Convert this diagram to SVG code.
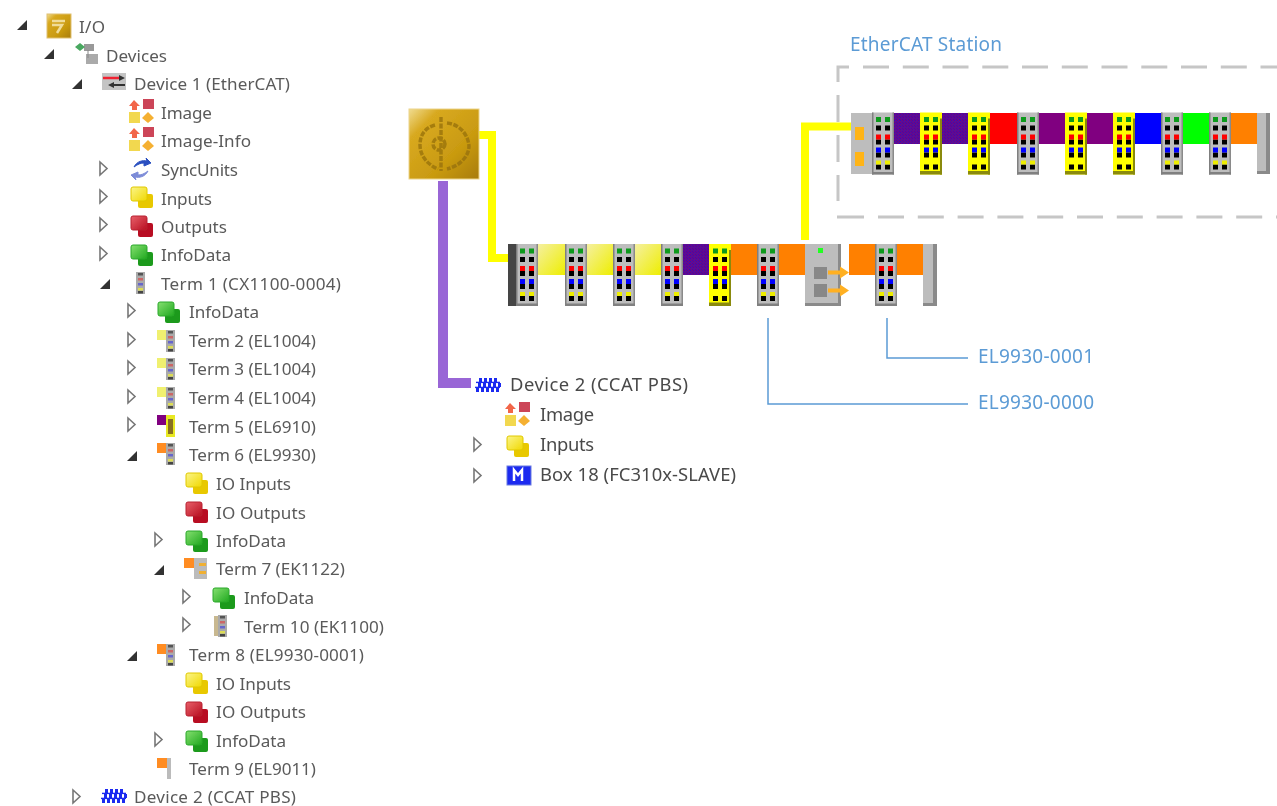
<svg xmlns="http://www.w3.org/2000/svg" width="1277" height="806" viewBox="0 0 1277 806">
<style>
text{font-family:"Noto Sans","Open Sans","Liberation Sans",sans-serif}
.t{font-size:17.1px;fill:#5a5a5a}
.t2{font-size:18.4px;fill:#4a4a4a}
.c{font-size:19px;fill:#5b9bd5}
.open{fill:#333}
.closed{fill:#fff;stroke:#777;stroke-width:1.6}
.dash{stroke:#c6c6c6;stroke-width:3;fill:none}
.call{stroke:#5b9bd5;stroke-width:1.5;fill:none}
</style>
<defs>
<filter id="soft" x="-2%" y="-2%" width="104%" height="104%"><feGaussianBlur stdDeviation="0.7"/></filter>
<linearGradient id="gold" x1="0" y1="0" x2="1" y2="1"><stop offset="0" stop-color="#f0dc90"/><stop offset=".22" stop-color="#d8a920"/><stop offset=".65" stop-color="#c99a10"/><stop offset="1" stop-color="#a87c08"/></linearGradient>
<linearGradient id="yg" x1="0" y1="0" x2="1" y2="1"><stop offset="0" stop-color="#f5f0a0"/><stop offset="1" stop-color="#eeee00"/></linearGradient>
<linearGradient id="yi" x1="0" y1="0" x2="1" y2="1"><stop offset="0" stop-color="#fbf58a"/><stop offset="1" stop-color="#f0d800"/></linearGradient>
<linearGradient id="ri" x1="0" y1="0" x2="1" y2="1"><stop offset="0" stop-color="#e8606a"/><stop offset="1" stop-color="#b80f20"/></linearGradient>
<linearGradient id="gi" x1="0" y1="0" x2="1" y2="1"><stop offset="0" stop-color="#86e070"/><stop offset="1" stop-color="#1fa81f"/></linearGradient>
<pattern id="hatch" width="3" height="3" patternUnits="userSpaceOnUse"><rect width="3" height="3" fill="#7a007a"/><rect width="1.500" height="1.500" fill="#3a10b0"/><rect x="1.500" y="1.500" width="1.500" height="1.500" fill="#3a10b0"/></pattern>
<g id="dots">
<g fill="#0a9a1a"><rect x="4" y="4.500" width="5" height="5"/><rect x="13" y="4.500" width="5" height="5"/></g>
<g fill="#000"><rect x="4" y="13" width="5" height="5"/><rect x="13" y="13" width="5" height="5"/><rect x="4" y="27" width="5" height="5"/><rect x="13" y="27" width="5" height="5"/><rect x="4" y="40" width="5" height="5"/><rect x="13" y="40" width="5" height="5"/><rect x="4" y="52" width="5" height="5"/><rect x="13" y="52" width="5" height="5"/></g>
<g fill="#f00"><rect x="4" y="22" width="5" height="5"/><rect x="13" y="22" width="5" height="5"/></g>
<g fill="#00f"><rect x="4" y="35" width="5" height="5"/><rect x="13" y="35" width="5" height="5"/></g>
</g>
<g id="term"><rect width="22" height="62" fill="#bdbdbd"/><rect width="1.500" height="62" fill="#7f7f7f"/><rect x="20.500" width="1.500" height="62" fill="#8a8a8a"/><rect y="59.500" width="22" height="2.500" fill="#808080"/><use href="#dots"/><g fill="#ee0"><rect x="4" y="48" width="5" height="4"/><rect x="13" y="48" width="5" height="4"/></g></g>
<g id="yterm"><rect width="22" height="62" fill="#ff0"/><rect x="20" y="6" width="2" height="56" fill="#8a8a10"/><rect y="58.500" width="22" height="3.500" fill="#8a8a10"/><use href="#dots"/></g>
<g id="mini"><rect width="9" height="22" fill="#aaa"/><rect x="2" y="1" width="5" height="2.500" fill="#555"/><rect x="2" y="6" width="5" height="2.500" fill="#c66"/><rect x="2" y="11" width="5" height="2.500" fill="#66c"/><rect x="2" y="16" width="5" height="2.500" fill="#dd5"/><rect x="2" y="19" width="5" height="2.500" fill="#444"/></g>
<g id="img"><rect x="0" y="13" width="11" height="11" fill="#f2d850"/><rect x="14" y="0" width="11" height="10" fill="#cc4458"/><path d="M5 1l6 6h-3v4h-5v-4h-3z" fill="#f2664a"/><path d="M19 13l6 6-6 5-6-5z" fill="#f5b030"/></g>
<g id="yi2"><rect x="7" y="7" width="15" height="14" rx="2" fill="#e8c800"/><rect width="16" height="14" rx="2" fill="url(#yi)" stroke="#e0c800"/></g>
<g id="ri2"><rect x="7" y="7" width="15" height="14" rx="2" fill="#b80f20"/><rect width="16" height="14" rx="2" fill="url(#ri)" stroke="#b82030"/></g>
<g id="gi2"><rect x="7" y="7" width="15" height="14" rx="2" fill="#1a9a1a"/><rect width="16" height="14" rx="2" fill="url(#gi)" stroke="#2aa82a"/></g>
<g id="grid" fill="#1a2af0"><path d="M4 0h3v4h-3zM9 0h3v4h-3zM14 0h3v4h-3zM19 0h3v4h-3zM3 5h3v4h-3zM8 5h3v4h-3zM13 5h3v4h-3zM18 5h3v4h-3zM23 5h3v4h-3zM1 10h3v4h-3zM6 10h3v4h-3zM11 10h3v4h-3zM16 10h3v4h-3zM21 10h3v4h-3z"/><rect x="1" y="3.700" width="24" height="1.400"/><rect x="0" y="8.700" width="25" height="1.400"/></g>
<path id="o" class="open" d="M9 0v10h-10z"/>
<path id="x" class="closed" d="M0 0l7 6.500-7 6.500z"/>
</defs>
<rect width="1277" height="806" fill="#fff"/>
<g filter="url(#soft)">
<g id="connectors">
<path d="M479 135H492V258H508" fill="none" stroke="#ff0" stroke-width="8"/>
<path d="M805 240V126.500H851" fill="none" stroke="#ff0" stroke-width="8"/>
<path d="M443 181V383H471" fill="none" stroke="#9966d6" stroke-width="10"/>
<path class="call" d="M768 318V404H968"/>
<path class="call" d="M887 318V358H968"/>
</g>
<g id="io-icon">
<rect x="409" y="109" width="70" height="70" fill="url(#gold)" stroke="#ecd48a"/>
<g fill="none" stroke="#96700c" stroke-width="3.500" stroke-dasharray="5 1.500" opacity=".75"><path d="M441 117V171"/><path d="M435 125C424 128 420 136 420 145C420 156 428 165 438 169"/><path d="M447 123C458 124 468 133 469 146C469 156 460 166 447 169"/><circle cx="439" cy="144" r="6"/></g>
</g>
<g id="bus-main">
<rect x="508" y="244" width="8" height="62" fill="#444"/>
<rect x="538" y="244" width="27" height="31" fill="url(#yg)"/><rect x="587" y="244" width="26" height="31" fill="url(#yg)"/><rect x="635" y="244" width="26" height="31" fill="url(#yg)"/><rect x="683" y="244" width="26" height="31" fill="url(#hatch)"/><rect x="731" y="244" width="26" height="31" fill="#ff8000"/><rect x="779" y="244" width="26" height="31" fill="#ff8000"/><rect x="849" y="244" width="26" height="31" fill="#ff8000"/><rect x="897" y="244" width="26" height="31" fill="#ff8000"/>
<use href="#term" x="516" y="244"/><use href="#term" x="565" y="244"/><use href="#term" x="613" y="244"/><use href="#term" x="661" y="244"/><use href="#yterm" x="709" y="244"/><use href="#term" x="757" y="244"/><use href="#term" x="875" y="244"/>
<g id="ek1122"><rect x="805" y="244" width="36" height="62" fill="#bdbdbd"/><rect x="838" y="244" width="3" height="62" fill="#8a8a8a"/><rect x="805" y="303" width="36" height="3" fill="#8a8a8a"/><rect x="818" y="248" width="5" height="5" fill="#2f2"/><rect x="814" y="267" width="13" height="12" fill="#888"/><rect x="814" y="284" width="13" height="13" fill="#888"/><path d="M828 270.500h12v-4l9 6-9 6v-4h-12zM828 288.500h12v-4l9 6-9 6v-4h-12z" fill="#ffb020"/></g>
<rect x="923" y="244" width="14" height="62" fill="#bdbdbd"/><rect x="933" y="244" width="4" height="62" fill="#8a8a8a"/><rect x="923" y="303" width="14" height="3" fill="#8a8a8a"/>
</g>
<g id="station">
<g class="dash"><path d="M838 82V67H849"/><path d="M838 95V122M838 135V162M838 175V201"/><path d="M863 67H889M902.800 67H928.800M942.500 67H968.500M982.300 67H1008.300M1022 67H1048M1061.800 67H1087.800M1101.500 67H1127.500M1141.300 67H1167.300M1181 67H1207M1220.800 67H1246.800M1260.500 67H1277"/><path d="M837 217H864M878 217H904M917.800 217H943.800M957.600 217H983.600M997.400 217H1023.400M1037.200 217H1063.200M1077 217H1103M1116.800 217H1142.800M1156.600 217H1182.600M1196.400 217H1222.400M1236.200 217H1262.200M1276 217H1277"/></g>
<rect x="851" y="113" width="21" height="61" fill="#bdbdbd"/><rect x="855" y="127" width="9" height="13" fill="#ffb414"/><rect x="855" y="152" width="9" height="14" fill="#ffb414"/>
<rect x="894" y="113" width="26" height="31" fill="url(#hatch)"/><rect x="942" y="113" width="26" height="31" fill="url(#hatch)"/><rect x="990" y="113" width="27" height="31" fill="#f00"/><rect x="1038" y="113" width="27" height="31" fill="#800080"/><rect x="1087" y="113" width="26" height="31" fill="#800080"/><rect x="1135" y="113" width="26" height="31" fill="#00f"/><rect x="1183" y="113" width="26" height="31" fill="#0f0"/><rect x="1231" y="113" width="26" height="31" fill="#ff8000"/>
<use href="#term" x="872" y="112.500"/><use href="#yterm" x="920" y="112.500"/><use href="#yterm" x="968" y="112.500"/><use href="#term" x="1017" y="112.500"/><use href="#yterm" x="1065" y="112.500"/><use href="#yterm" x="1113" y="112.500"/><use href="#term" x="1161" y="112.500"/><use href="#term" x="1209" y="112.500"/>
<rect x="1257" y="113" width="13" height="61" fill="#bdbdbd"/><rect x="1266" y="113" width="4" height="61" fill="#8a8a8a"/><rect x="1257" y="171" width="13" height="3" fill="#8a8a8a"/>
</g>
<g id="labels"><text class="c" x="850" y="51" textLength="152">EtherCAT Station</text><text class="c" x="978" y="363" textLength="116">EL9930-0001</text><text class="c" x="978" y="409" textLength="116">EL9930-0000</text></g>
<g id="tree">
<g id="n-io"><use href="#o" x="18" y="20"/><rect x="47" y="14" width="24" height="24" fill="url(#gold)" stroke="#e0c070"/><path d="M52 21h13M52 25h10l-5 8" stroke="#f0dc98" stroke-width="2.500" fill="none"/><text class="t" x="79" y="33" textLength="26">I/O</text></g>
<g id="n-devices"><use href="#o" x="45" y="49"/><rect x="84" y="44" width="10" height="7" fill="#999"/><rect x="86" y="54" width="12" height="10" fill="#aaa"/><path d="M88 50v8" stroke="#888" fill="none"/><path d="M75 47l5-4 5 4-5 4z" fill="#4aa860"/><text class="t" x="106" y="62" textLength="61">Devices</text></g>
<g id="n-dev1"><use href="#o" x="73" y="79"/><rect x="102" y="73" width="24" height="17" fill="#c4c4c4"/><path d="M103 78h17" stroke="#f02030" stroke-width="2.500" fill="none"/><path d="M125 85h-15" stroke="#333" stroke-width="2" fill="none"/><path d="M119 75l6 3-6 3zM114 82l-6 3 6 3z" fill="#333"/><text class="t" x="134" y="90" textLength="156">Device 1 (EtherCAT)</text></g>
<g id="n-image"><use href="#img" x="129" y="99"/><text class="t" x="161" y="119" textLength="51">Image</text></g>
<g id="n-imageinfo"><use href="#img" x="129" y="127"/><text class="t" x="161" y="147" textLength="90">Image-Info</text></g>
<g id="n-sync"><use href="#x" x="100" y="162"/><path d="M134 167c3-6 9-7 13-6l-1-3 5 5-7 3 0-3c-3 0-6 1-10 4z" fill="#2a50c0" stroke="#2a50c0"/><path d="M148 171c-3 6-9 7-13 6l1 3-5-5 7-3 0 3c3 0 6-1 10-4z" fill="#7d8cd8" stroke="#7d8cd8"/><text class="t" x="161" y="176" textLength="77">SyncUnits</text></g>
<g id="n-inputs"><use href="#x" x="100" y="190"/><use href="#yi2" x="131" y="187"/><text class="t" x="161" y="205" textLength="51">Inputs</text></g>
<g id="n-outputs"><use href="#x" x="100" y="218"/><use href="#ri2" x="131" y="216"/><text class="t" x="161" y="233" textLength="66">Outputs</text></g>
<g id="n-infodata1"><use href="#x" x="100" y="247"/><use href="#gi2" x="131" y="245"/><text class="t" x="161" y="261" textLength="70">InfoData</text></g>
<g id="n-term1"><use href="#o" x="101" y="279"/><use href="#mini" x="136" y="272"/><text class="t" x="161" y="290" textLength="180">Term 1 (CX1100-0004)</text></g>
<g id="n-infodata2"><use href="#x" x="128" y="304"/><use href="#gi2" x="158" y="302"/><text class="t" x="189" y="318" textLength="70">InfoData</text></g>
<g id="n-term2"><use href="#x" x="128" y="333"/><rect x="157" y="330" width="10" height="10" fill="#f0f070"/><use href="#mini" x="166" y="330"/><text class="t" x="189" y="347" textLength="127">Term 2 (EL1004)</text></g>
<g id="n-term3"><use href="#x" x="128" y="361"/><rect x="157" y="358" width="10" height="10" fill="#f0f070"/><use href="#mini" x="166" y="358"/><text class="t" x="189" y="375" textLength="127">Term 3 (EL1004)</text></g>
<g id="n-term4"><use href="#x" x="128" y="390"/><rect x="157" y="387" width="10" height="10" fill="#f0f070"/><use href="#mini" x="166" y="387"/><text class="t" x="189" y="404" textLength="127">Term 4 (EL1004)</text></g>
<g id="n-term5"><use href="#x" x="128" y="418"/><rect x="157" y="415" width="10" height="10" fill="#800080"/><rect x="166" y="415" width="9" height="22" fill="#e8e820"/><rect x="168" y="419" width="5" height="15" fill="#887020"/><text class="t" x="189" y="433" textLength="127">Term 5 (EL6910)</text></g>
<g id="n-term6"><use href="#o" x="128" y="451"/><rect x="157" y="443" width="10" height="10" fill="#ff8c20"/><use href="#mini" x="166" y="443"/><text class="t" x="189" y="461" textLength="127">Term 6 (EL9930)</text></g>
<g id="n-ioin1"><use href="#yi2" x="186" y="473"/><text class="t" x="216" y="490" textLength="75">IO Inputs</text></g>
<g id="n-ioout1"><use href="#ri2" x="186" y="502"/><text class="t" x="216" y="519" textLength="90">IO Outputs</text></g>
<g id="n-infodata3"><use href="#x" x="155" y="533"/><use href="#gi2" x="186" y="531"/><text class="t" x="216" y="547" textLength="70">InfoData</text></g>
<g id="n-term7"><use href="#o" x="155" y="565"/><rect x="184" y="558" width="10" height="10" fill="#ff8c20"/><rect x="194" y="558" width="13" height="21" fill="#bbb"/><rect x="199" y="563" width="7" height="3" fill="#f0b030"/><rect x="199" y="571" width="7" height="3" fill="#f0b030"/><text class="t" x="216" y="575" textLength="129">Term 7 (EK1122)</text></g>
<g id="n-infodata4"><use href="#x" x="183" y="590"/><use href="#gi2" x="213" y="588"/><text class="t" x="244" y="604" textLength="70">InfoData</text></g>
<g id="n-term10"><use href="#x" x="183" y="618"/><rect x="214" y="616" width="5" height="20" fill="#c8b890"/><use href="#mini" x="218" y="615"/><text class="t" x="244" y="633" textLength="140">Term 10 (EK1100)</text></g>
<g id="n-term8"><use href="#o" x="128" y="651"/><rect x="157" y="644" width="10" height="10" fill="#ff8c20"/><use href="#mini" x="166" y="644"/><text class="t" x="189" y="661" textLength="175">Term 8 (EL9930-0001)</text></g>
<g id="n-ioin2"><use href="#yi2" x="186" y="673"/><text class="t" x="216" y="690" textLength="75">IO Inputs</text></g>
<g id="n-ioout2"><use href="#ri2" x="186" y="702"/><text class="t" x="216" y="718" textLength="90">IO Outputs</text></g>
<g id="n-infodata5"><use href="#x" x="155" y="733"/><use href="#gi2" x="186" y="731"/><text class="t" x="216" y="747" textLength="70">InfoData</text></g>
<g id="n-term9"><rect x="157" y="758" width="10" height="10" fill="#ff8c20"/><rect x="167" y="758" width="4" height="21" fill="#bbb"/><text class="t" x="189" y="775" textLength="127">Term 9 (EL9011)</text></g>
<g id="n-dev2"><use href="#x" x="73" y="790"/><use href="#grid" x="101" y="789"/><text class="t" x="134" y="803" textLength="162">Device 2 (CCAT PBS)</text></g>
</g>
<g id="tree-2">
<g id="r-dev2"><use href="#grid" x="475" y="378"/><text class="t2" x="510" y="391" textLength="178">Device 2 (CCAT PBS)</text></g>
<g id="r-image"><use href="#img" x="505" y="402"/><text class="t2" x="540" y="421" textLength="54">Image</text></g>
<g id="r-inputs"><use href="#x" x="474" y="438"/><use href="#yi2" x="507" y="436"/><text class="t2" x="540" y="451" textLength="54">Inputs</text></g>
<g id="r-box"><use href="#x" x="474" y="469"/><rect x="507" y="466" width="24" height="19" fill="#1a2af0" stroke="#6a7ae0"/><path d="M514 481v-11l4 5 4-5v11" stroke="#fff" stroke-width="2.500" fill="none"/><text class="t2" x="540" y="481" textLength="196">Box 18 (FC310x-SLAVE)</text></g>
</g>
</g>
</svg>
